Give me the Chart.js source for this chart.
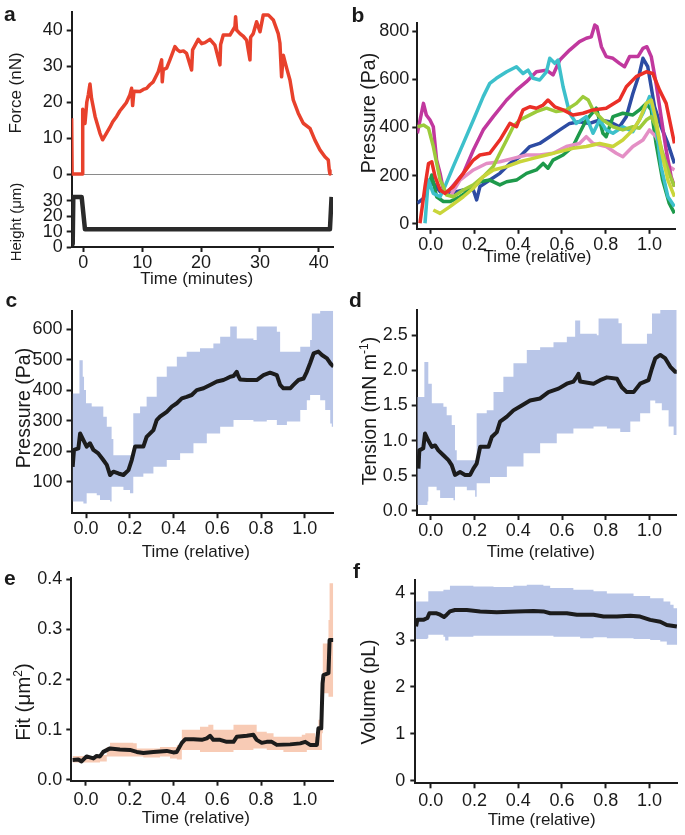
<!DOCTYPE html>
<html>
<head>
<meta charset="utf-8">
<script src="https://cdn.jsdelivr.net/npm/chart.js@4.4.1/dist/chart.umd.min.js"></script>
<style>
html,body{margin:0;padding:0;background:#fff;}
#fig{position:relative;width:685px;height:835px;overflow:hidden;font-family:"Liberation Sans",Arial,sans-serif;color:#1a1a1a;background:#fff;}
canvas.cv{position:absolute;}
.lbl{position:absolute;font-weight:bold;font-size:21px;line-height:21px;}
.yt{position:absolute;font-size:19.5px;line-height:19.5px;white-space:nowrap;transform:translate(-50%,-50%) rotate(-90deg);}
.xt{position:absolute;font-size:17px;line-height:17px;white-space:nowrap;transform:translate(-50%,-50%);}
sup{font-size:12px;line-height:0;vertical-align:8px;}
</style>
</head>
<body>
<div id="fig"></div>
<script>
// ---------------- DATA ----------------
// Panel a: force (nN) and height (µm) vs time (minutes)
const forceTime = [-1.98,-1.92,-1.9,-0.11,-0.1,0.1,0.28,0.6,0.85,1.13,1.4,2.0,2.83,3.28,4.53,5.0,5.66,6.2,6.79,7.3,7.92,8.2,8.38,8.6,9.62,10.2,10.75,11.3,11.88,12.73,13.3,13.41,13.58,14.15,14.71,15.56,16.0,16.41,17.0,17.54,18.39,18.56,19.52,20.1,20.66,21.5,22.35,23.2,23.32,23.77,24.9,25.75,25.86,26.03,26.6,27.2,27.73,28.3,28.41,28.86,29.43,30.0,30.56,31.41,32.26,33.1,33.39,33.67,33.96,34.24,34.6,35.09,35.65,36.5,37.35,38.48,39.33,40.18,41.03,41.6,41.77,41.88];
const forceNN   = [15.5,15.5,0,0,18,17,14,20,22,25,21,16,11.3,9.5,13,14.5,16,17.5,18.7,19.8,22,23.8,19,23,22.9,23.5,23.8,24.8,25.6,28.4,31.7,25.6,29,29.4,31.7,35.4,34.5,34,34.2,33.5,28.9,34.5,37.4,36.2,36.5,37.4,35.8,30.3,36,38.6,38.6,40.9,43.7,40,39,38.2,37.2,31.7,38,39,42.3,39.5,44.2,44.2,42.8,39,36.3,27,33,31.2,29,26.1,20.6,16.9,14.1,12.7,9.4,6.7,4.8,3.9,1,0];
const heightTime = [-1.98,-1.8,-1.7,-0.28,0.28,41.88,42.16];
const heightUm   = [2,2,32.5,32.5,11.5,11.5,32.5];
const forceTicks = [0,10,20,30,40];
const heightTicks = [0,10,20,30];
const minuteTicks = [0,10,20,30,40];

// Panel b: pressure (Pa) traces vs relative time
const traceMagentaT = [-0.061,-0.033,-0.02,-0.003,0.012,0.027,0.043,0.058,0.073,0.149,0.195,0.24,0.286,0.347,0.392,0.438,0.483,0.529,0.559,0.59,0.635,0.68,0.711,0.734,0.75,0.76,0.78,0.802,0.833,0.863,0.886,0.909,0.947,0.97,0.988,1.008,1.03,1.053,1.076,1.099,1.114];
const traceMagentaP = [376,500,452,431,403,265,210,141,127,210,307,390,445,514,555,590,631,638,618,680,721,756,770,776,825,818,735,694,687,666,652,694,694,728,735,694,583,445,307,196,155];
const traceCyanT = [-0.026,-0.011,0.012,0.043,0.065,0.103,0.149,0.195,0.24,0.27,0.30,0.347,0.392,0.422,0.445,0.468,0.498,0.529,0.544,0.567,0.582,0.605,0.635,0.666,0.711,0.742,0.772,0.802,0.833,0.878,0.924,0.97,1.0,1.03,1.053,1.084,1.114];
const traceCyanP = [3,182,127,113,155,238,334,431,528,583,604,631,652,624,638,604,597,631,687,666,680,569,459,417,445,376,431,390,376,403,383,459,528,403,238,113,72];
const traceRedT = [-0.049,-0.026,-0.01,0.005,0.02,0.043,0.065,0.103,0.149,0.195,0.225,0.27,0.316,0.362,0.392,0.422,0.453,0.483,0.514,0.536,0.567,0.605,0.65,0.696,0.742,0.802,0.863,0.894,0.939,0.985,1.015,1.046,1.076,1.114];
const traceRedP = [3,155,251,258,196,141,127,155,210,265,286,293,348,417,403,473,486,480,493,514,486,473,452,459,473,480,514,569,611,631,624,555,500,334];
const traceLightGreenT = [-0.061,-0.033,-0.01,0.012,0.043,0.058,0.073,0.103,0.149,0.195,0.24,0.286,0.316,0.347,0.377,0.407,0.438,0.483,0.529,0.574,0.62,0.666,0.696,0.72,0.742,0.787,0.833,0.878,0.924,0.954,0.985,1.008,1.03,1.06,1.09,1.114];
const traceLightGreenP = [403,410,397,321,182,155,120,113,141,162,196,238,293,348,403,431,445,466,480,466,473,500,528,514,473,431,403,390,403,397,431,445,403,293,210,155];
const traceBlueT = [-0.061,-0.033,-0.01,0.012,0.043,0.088,0.149,0.195,0.21,0.225,0.27,0.316,0.362,0.407,0.453,0.498,0.544,0.59,0.635,0.68,0.726,0.772,0.818,0.863,0.894,0.924,0.954,0.97,0.992,1.023,1.053,1.084,1.114];
const traceBlueP = [86,106,155,169,134,127,141,141,100,155,182,210,251,279,321,334,362,390,417,424,417,431,424,403,445,541,624,687,652,486,403,334,251];
const traceGreenT = [-0.01,0.005,0.027,0.058,0.088,0.134,0.179,0.225,0.27,0.316,0.347,0.392,0.438,0.483,0.514,0.536,0.559,0.605,0.65,0.68,0.711,0.757,0.787,0.802,0.833,0.878,0.924,0.954,0.985,1.008,1.03,1.06,1.09,1.114];
const traceGreenP = [155,203,113,93,93,113,141,175,182,162,175,182,210,224,251,231,265,286,321,376,431,480,376,362,445,459,452,473,500,473,334,182,86,44];
const tracePinkT = [0.088,0.134,0.195,0.255,0.316,0.377,0.438,0.498,0.559,0.62,0.68,0.711,0.742,0.802,0.848,0.878,0.924,0.97,1.0,1.03,1.06,1.09,1.114];
const tracePinkP = [113,182,224,251,258,272,286,286,293,321,334,362,334,321,293,279,321,348,390,362,293,238,224];
const traceYellowT = [0.012,0.043,0.088,0.149,0.195,0.24,0.286,0.347,0.407,0.468,0.529,0.59,0.65,0.711,0.772,0.833,0.878,0.924,0.954,0.985,1.008,1.03,1.053,1.084,1.114];
const traceYellowP = [58,44,72,113,148,196,224,238,258,272,286,300,314,321,334,321,348,390,431,500,514,431,307,182,113];
const pressureTicksB = [0,200,400,600,800];
const relTicks = [0,0.2,0.4,0.6,0.8,1.0];

// Panel c: mean pressure (Pa) and spread band
const cMeanT = [-0.061,-0.055,-0.035,-0.027,-0.012,0.003,0.018,0.034,0.056,0.079,0.095,0.11,0.125,0.148,0.171,0.194,0.209,0.224,0.262,0.277,0.308,0.323,0.338,0.369,0.392,0.415,0.438,0.46,0.483,0.506,0.537,0.567,0.598,0.628,0.643,0.659,0.674,0.689,0.694,0.704,0.735,0.78,0.811,0.841,0.872,0.887,0.902,0.933,0.948,0.971,0.994,1.009,1.024,1.04,1.062,1.078,1.101,1.116,1.131];
const cMeanP = [149,204,209,258,236,215,226,204,193,171,155,122,133,127,122,138,171,215,215,247,269,302,313,329,346,357,373,378,384,400,406,417,428,433,438,444,446,460,449,435,433,433,449,457,449,417,406,406,417,433,438,460,488,520,526,515,504,488,477];
const cUpperT = [-0.061,-0.034,-0.03,-0.018,-0.015,-0.009,0,0.026,0.064,0.079,0.095,0.117,0.125,0.209,0.216,0.247,0.277,0.323,0.369,0.415,0.46,0.521,0.582,0.613,0.659,0.689,0.765,0.78,0.872,0.887,0.948,0.979,1.024,1.032,1.07,1.131];
const cUpperP = [389,389,498,498,444,400,357,346,346,313,280,240,187,187,324,346,378,444,477,509,526,537,553,575,608,569,564,608,591,526,526,542,564,651,662,662];
const cLowerT = [-0.061,-0.012,0.003,0.049,0.064,0.11,0.117,0.171,0.201,0.216,0.262,0.308,0.369,0.43,0.491,0.552,0.613,0.674,0.765,0.826,0.872,0.918,0.979,1.009,1.024,1.04,1.07,1.093,1.116,1.123,1.131];
const cLowerP = [35,29,62,56,40,35,84,73,62,116,127,149,171,193,226,258,280,302,297,302,286,297,335,367,384,384,367,335,291,280,280];
const pressureTicksC = [100,200,300,400,500,600];

// Panel d: mean tension (mN/m) and spread band
const dMeanT = [-0.056,-0.052,-0.034,-0.026,-0.011,0.005,0.02,0.035,0.058,0.081,0.096,0.111,0.134,0.157,0.18,0.195,0.21,0.226,0.264,0.279,0.302,0.317,0.348,0.378,0.416,0.454,0.5,0.538,0.584,0.622,0.652,0.668,0.675,0.683,0.744,0.774,0.805,0.851,0.873,0.896,0.927,0.957,0.995,1.011,1.026,1.049,1.072,1.095,1.117,1.128];
const dMeanN = [0.6,0.86,0.89,1.1,1.0,0.91,0.93,0.86,0.79,0.72,0.65,0.51,0.55,0.51,0.51,0.6,0.67,0.91,0.91,1.05,1.12,1.27,1.34,1.43,1.5,1.57,1.6,1.69,1.74,1.81,1.84,1.91,1.95,1.84,1.81,1.86,1.9,1.88,1.76,1.69,1.69,1.81,1.86,2.03,2.17,2.22,2.17,2.05,1.98,1.98];
const dUpperT = [-0.061,-0.034,-0.029,-0.015,-0.011,0.005,0.058,0.073,0.096,0.111,0.119,0.195,0.21,0.256,0.287,0.332,0.378,0.439,0.5,0.561,0.622,0.66,0.683,0.759,0.767,0.858,0.873,0.942,0.988,1.011,1.049,1.128];
const dUpperN = [1.62,1.62,2.12,2.12,1.81,1.53,1.48,1.36,1.22,0.86,0.72,0.72,1.39,1.43,1.69,1.91,2.1,2.29,2.33,2.4,2.48,2.71,2.52,2.5,2.74,2.67,2.38,2.38,2.52,2.81,2.86,2.86];
const dLowerT = [-0.061,-0.015,-0.011,0.027,0.043,0.104,0.111,0.165,0.203,0.21,0.271,0.348,0.424,0.5,0.576,0.652,0.744,0.805,0.866,0.912,0.957,1.003,1.026,1.056,1.087,1.11,1.128];
const dLowerN = [0.08,0.13,0.34,0.29,0.18,0.15,0.34,0.29,0.2,0.39,0.48,0.63,0.82,0.96,1.1,1.17,1.2,1.17,1.12,1.27,1.39,1.57,1.53,1.43,1.2,1.08,1.08];
const tensionTicks = [0,0.5,1.0,1.5,2.0,2.5];

// Panel e: mean fit (µm²) and spread band
const eMeanT = [-0.061,-0.035,-0.02,0.003,0.034,0.049,0.064,0.079,0.11,0.155,0.201,0.232,0.262,0.308,0.369,0.399,0.415,0.438,0.453,0.491,0.529,0.552,0.567,0.582,0.613,0.643,0.674,0.689,0.735,0.765,0.78,0.803,0.826,0.849,0.872,0.933,0.979,1.002,1.024,1.055,1.062,1.075,1.081,1.085,1.108,1.113,1.131];
const eMeanF = [0.04,0.041,0.037,0.047,0.043,0.048,0.047,0.056,0.063,0.061,0.06,0.056,0.054,0.056,0.058,0.055,0.056,0.074,0.081,0.081,0.08,0.083,0.088,0.08,0.08,0.076,0.076,0.086,0.088,0.09,0.08,0.074,0.076,0.076,0.07,0.071,0.073,0.076,0.07,0.07,0.103,0.103,0.193,0.209,0.213,0.279,0.279];
const eUpperT = [-0.061,0.064,0.095,0.11,0.216,0.232,0.338,0.415,0.438,0.521,0.559,0.582,0.643,0.674,0.773,0.78,0.826,0.857,0.986,1.002,1.047,1.062,1.078,1.082,1.108,1.113,1.131];
const eUpperF = [0.048,0.05,0.066,0.074,0.073,0.063,0.066,0.07,0.1,0.106,0.11,0.1,0.1,0.11,0.11,0.096,0.093,0.086,0.09,0.093,0.086,0.12,0.146,0.272,0.319,0.392,0.392];
const eLowerT = [-0.061,0.064,0.095,0.216,0.262,0.338,0.384,0.415,0.438,0.521,0.674,0.765,0.826,0.902,1.009,1.062,1.078,1.082,1.108,1.131];
const eLowerF = [0.035,0.037,0.047,0.047,0.045,0.047,0.043,0.041,0.06,0.056,0.06,0.063,0.06,0.056,0.06,0.06,0.093,0.173,0.166,0.166];
const fitTicks = [0,0.1,0.2,0.3,0.4];

// Panel f: mean volume (pL) and spread band
const fMeanT = [-0.067,-0.061,-0.034,-0.015,-0.006,0.027,0.043,0.061,0.073,0.088,0.111,0.165,0.226,0.302,0.393,0.47,0.515,0.546,0.622,0.668,0.744,0.79,0.851,0.912,0.957,1.003,1.049,1.079,1.125];
const fMeanV = [3.29,3.43,3.43,3.47,3.57,3.57,3.54,3.49,3.54,3.61,3.64,3.64,3.61,3.59,3.61,3.62,3.61,3.57,3.57,3.54,3.54,3.5,3.5,3.52,3.5,3.43,3.39,3.32,3.29];
const fUpperT = [-0.067,-0.015,-0.011,0.058,0.088,0.195,0.287,0.378,0.439,0.515,0.546,0.652,0.744,0.805,0.927,1.003,1.064,1.095,1.11,1.128];
const fUpperV = [3.82,3.82,4.04,4.07,4.16,4.14,4.13,4.16,4.18,4.16,4.11,4.07,4.04,3.99,3.94,3.89,3.82,3.75,3.68,3.68];
const fLowerT = [-0.067,-0.015,-0.011,0.058,0.066,0.081,0.195,0.439,0.561,0.683,0.744,0.805,0.927,1.003,1.049,1.079,1.128];
const fLowerV = [3.02,3.04,3.11,3.07,2.99,3.07,3.09,3.09,3.07,3.04,3.06,3.04,3.02,3.0,2.97,2.9,2.86];
const volumeTicks = [0,1,2,3,4];

// ---------------- STYLE / LAYOUT ----------------
const FONT = '"Liberation Sans", Arial, sans-serif';
const TICK_SIZE = 18;
const AXIS = '#1c1c1c';
const TEXT = '#1a1a1a';
const BLUE_BAND = '#b9c6e8';
const PEACH_BAND = '#f8cbb5';
const MEAN = '#1c1c1c';
const fig = document.getElementById('fig');

function pts(xs, ys) { return xs.map((x, i) => ({x: x, y: ys[i]})); }
const fmt1 = v => Number(v).toFixed(1);
const fmt0 = v => String(v);

function line(xs, ys, color, width, extra) {
  return Object.assign({data: pts(xs, ys), borderColor: color, borderWidth: width, fill: false, pointRadius: 0, tension: 0}, extra || {});
}
function bandUpper(xs, ys, color) {
  return {data: pts(xs, ys), borderColor: 'rgba(0,0,0,0)', borderWidth: 0, backgroundColor: color, fill: '+1', pointRadius: 0, stepped: true};
}
function bandLower(xs, ys) {
  return {data: pts(xs, ys), borderColor: 'rgba(0,0,0,0)', borderWidth: 0, fill: false, pointRadius: 0, stepped: true};
}

function makePanel(p) {
  const W = p.cv.r - p.cv.l, H = p.cv.b - p.cv.t;
  const canvas = document.createElement('canvas');
  canvas.className = 'cv';
  canvas.width = W; canvas.height = H;
  canvas.style.left = p.cv.l + 'px'; canvas.style.top = p.cv.t + 'px';
  canvas.style.width = W + 'px'; canvas.style.height = H + 'px';
  fig.appendChild(canvas);
  const yW = p.area.L - p.cv.l;
  const xShow = p.x.show !== false;
  const xH = p.cv.b - p.area.B;
  const zeroLine = !!p.zeroLine;
  new Chart(canvas, {
    type: 'line',
    data: {datasets: p.datasets},
    options: {
      responsive: false, maintainAspectRatio: false, animation: false, devicePixelRatio: 1,
      layout: {autoPadding: false, padding: {left: 0, top: p.area.T - p.cv.t, right: p.cv.r - p.area.R, bottom: xShow ? 0 : xH}},
      plugins: {legend: {display: false}, tooltip: {enabled: false}},
      elements: {point: {radius: 0}, line: {tension: 0, borderJoinStyle: 'round', borderCapStyle: 'butt'}},
      scales: {
        x: {
          type: 'linear', min: p.x.min, max: p.x.max, display: xShow,
          afterFit(s) { s.height = xH; s.paddingLeft = 0; s.paddingRight = 0; s.paddingTop = 0; s.paddingBottom = 0; },
          afterBuildTicks(s) { s.ticks = p.x.ticks.map(v => ({value: v})); },
          ticks: {font: {family: FONT, size: TICK_SIZE}, color: TEXT, padding: p.x.pad, maxRotation: 0, autoSkip: false, callback: p.x.fmt},
          grid: {display: true, drawOnChartArea: false, drawTicks: true, tickLength: 5, tickWidth: 2, tickColor: AXIS},
          border: {display: true, color: AXIS, width: 2}
        },
        y: {
          type: 'linear', min: p.y.min, max: p.y.max,
          afterFit(s) { s.width = yW; s.paddingLeft = 0; s.paddingRight = 0; s.paddingTop = 0; s.paddingBottom = 0; },
          afterBuildTicks(s) { s.ticks = p.y.ticks.map(v => ({value: v})); },
          ticks: {font: {family: FONT, size: TICK_SIZE}, color: TEXT, padding: p.y.pad, autoSkip: false, callback: p.y.fmt},
          grid: {display: true, drawOnChartArea: zeroLine, lineWidth: 1,
                 color: ctx => (zeroLine && ctx.tick && ctx.tick.value === 0) ? '#8a8a8a' : 'rgba(0,0,0,0)',
                 drawTicks: true, tickLength: 5, tickWidth: 2, tickColor: AXIS},
          border: {display: true, color: AXIS, width: 2}
        }
      }
    }
  });
}

function addText(cls, html, x, y, size) {
  const d = document.createElement('div');
  d.className = cls; d.innerHTML = html;
  d.style.left = x + 'px'; d.style.top = y + 'px';
  if (size) { d.style.fontSize = size + 'px'; d.style.lineHeight = size + 'px'; }
  fig.appendChild(d);
}

// ---- Panel a (force) ----
makePanel({
  cv: {l: 0, t: 0, r: 345, b: 183}, area: {L: 71.7, T: 12, R: 333, B: 183},
  x: {min: -1.97, max: 42.4, ticks: minuteTicks, show: false, pad: 1, fmt: fmt0},
  y: {min: -2.5, max: 45, ticks: forceTicks, pad: 4, fmt: fmt0},
  zeroLine: true,
  datasets: [line(forceTime, forceNN, '#e8412c', 3.5)]
});
// ---- Panel a (height) ----
makePanel({
  cv: {l: 0, t: 175, r: 345, b: 290}, area: {L: 71.7, T: 183, R: 333, B: 247},
  x: {min: -1.97, max: 42.4, ticks: minuteTicks, pad: 0.5, fmt: fmt0},
  y: {min: 0, max: 41.5, ticks: heightTicks, pad: 4, fmt: fmt0},
  datasets: [line(heightTime, heightUm, '#2a2a2a', 4.5)]
});
// ---- Panel b ----
const traceColors = {red: '#ea2f27', yellow: '#c9d53a', lightgreen: '#9dcb3b', cyan: '#3dc0cb', magenta: '#c1389e', pink: '#e48fc5', green: '#1e9a4b', blue: '#2d4ca3'};
makePanel({
  cv: {l: 345, t: 10, r: 685, b: 262}, area: {L: 417.3, T: 22.6, R: 675, B: 228.8},
  x: {min: -0.0612, max: 1.1165, ticks: relTicks, pad: 0.5, fmt: fmt1},
  y: {min: -20, max: 835, ticks: pressureTicksB, pad: 3, fmt: fmt0},
  datasets: [
    line(traceRedT, traceRedP, traceColors.red, 3.5),
    line(traceYellowT, traceYellowP, traceColors.yellow, 3.5),
    line(traceLightGreenT, traceLightGreenP, traceColors.lightgreen, 3.5),
    line(traceCyanT, traceCyanP, traceColors.cyan, 3.5),
    line(traceMagentaT, traceMagentaP, traceColors.magenta, 3.5),
    line(tracePinkT, tracePinkP, traceColors.pink, 3.5),
    line(traceGreenT, traceGreenP, traceColors.green, 3.5),
    line(traceBlueT, traceBlueP, traceColors.blue, 3.5)
  ]
});
// ---- Panel c ----
makePanel({
  cv: {l: 0, t: 300, r: 345, b: 545}, area: {L: 71.5, T: 310.7, R: 333.3, B: 513.2},
  x: {min: -0.0663, max: 1.130, ticks: relTicks, pad: 0.5, fmt: fmt1},
  y: {min: -3, max: 660, ticks: pressureTicksC, pad: 4, fmt: fmt0},
  datasets: [line(cMeanT, cMeanP, MEAN, 4), bandUpper(cUpperT, cUpperP, BLUE_BAND), bandLower(cLowerT, cLowerP)]
});
// ---- Panel d ----
makePanel({
  cv: {l: 345, t: 300, r: 685, b: 545}, area: {L: 416.7, T: 310, R: 676.7, B: 515},
  x: {min: -0.064, max: 1.124, ticks: relTicks, pad: 0.5, fmt: fmt1},
  y: {min: -0.061, max: 2.86, ticks: tensionTicks, pad: 4, fmt: fmt1},
  datasets: [line(dMeanT, dMeanN, MEAN, 4), bandUpper(dUpperT, dUpperN, BLUE_BAND), bandLower(dLowerT, dLowerN)]
});
// ---- Panel e ----
makePanel({
  cv: {l: 0, t: 570, r: 345, b: 812}, area: {L: 71.3, T: 578.3, R: 333.3, B: 780.7},
  x: {min: -0.067, max: 1.130, ticks: relTicks, pad: 3.4, fmt: fmt1},
  y: {min: -0.0014, max: 0.402, ticks: fitTicks, pad: 4, fmt: fmt1},
  datasets: [line(eMeanT, eMeanF, MEAN, 4), bandUpper(eUpperT, eUpperF, PEACH_BAND), bandLower(eLowerT, eLowerF)]
});
// ---- Panel f ----
makePanel({
  cv: {l: 345, t: 570, r: 685, b: 812}, area: {L: 415.3, T: 580, R: 677.3, B: 783.3},
  x: {min: -0.0704, max: 1.127, ticks: relTicks, pad: 1.7, fmt: fmt1},
  y: {min: -0.055, max: 4.28, ticks: volumeTicks, pad: 5, fmt: fmt0},
  datasets: [line(fMeanT, fMeanV, MEAN, 4), bandUpper(fUpperT, fUpperV, BLUE_BAND), bandLower(fLowerT, fLowerV)]
});

// ---- axis titles & panel letters (real text) ----
addText('yt', 'Force (nN)', 14.8, 92.5, 17);
addText('yt', 'Height (μm)', 14.8, 221.5, 15);
addText('xt', 'Time (minutes)', 196.7, 278);
addText('yt', 'Pressure (Pa)', 369.2, 112.5);
addText('xt', 'Time (relative)', 537.5, 256.3);
addText('yt', 'Pressure (Pa)', 23.8, 408);
addText('xt', 'Time (relative)', 195.8, 550.6);
addText('yt', 'Tension (mN m<sup>-1</sup>)', 369.8, 410.8);
addText('xt', 'Time (relative)', 540.8, 551.3);
addText('yt', 'Fit (μm<sup>2</sup>)', 23.2, 701.7, 20.5);
addText('xt', 'Time (relative)', 195.8, 817);
addText('yt', 'Volume (pL)', 369.2, 691.7);
addText('xt', 'Time (relative)', 541.7, 818.6);

addText('lbl', 'a', 4, 2.9);
addText('lbl', 'b', 351.5, 3.9);
addText('lbl', 'c', 5.5, 289.2);
addText('lbl', 'd', 349, 288.9);
addText('lbl', 'e', 4, 567.2);
addText('lbl', 'f', 353, 560.2);
</script>
</body>
</html>
